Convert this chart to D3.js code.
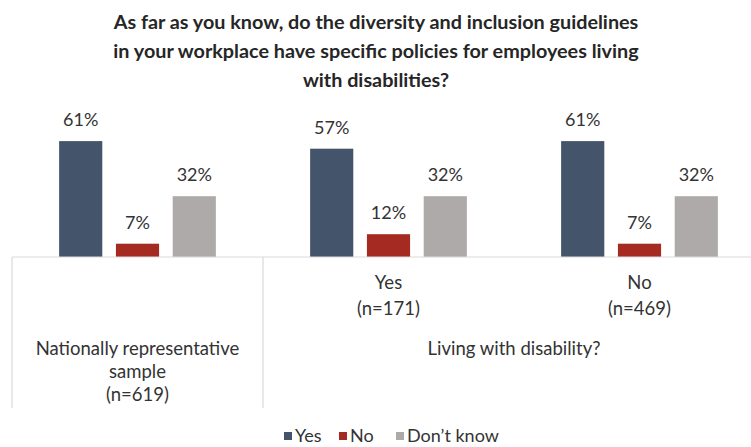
<!DOCTYPE html>
<html>
<head>
<meta charset="utf-8">
<script src="https://cdn.jsdelivr.net/npm/d3@7"></script>
<style>
  body { margin: 0; background: #fff; }
  svg { font-family: Lato, "Open Sans", sans-serif; }
</style>
</head>
<body>
<svg id="chart" width="751" height="447"></svg>
<script>
// data
var groups = ["national", "dis_yes", "dis_no"];
var innerLabels = [[], ["Yes", "(n=171)"], ["No", "(n=469)"]];
var outerLabels = [
    {span: [0, 0], lines: ["Nationally representative", "sample", "(n=619)"]},
    {span: [1, 2], lines: ["Living with disability?"]}
];
var series = ["Yes", "No", "Don\u2019t know"];
var yesVals = [61, 57, 61];
var noVals = [7, 12, 7];
var dkVals = [32, 32, 32];
var colors = ["#44546a", "#a52a22", "#aeaaaa"];
var titleLines = [
    "As far as you know, do the diversity and inclusion guidelines",
    "in your workplace have specific policies for employees living",
    "with disabilities?"
];

var svg = d3.select("#chart");
var baseY = 257, axisBottom = 408;

var x0 = d3.scaleBand().domain(groups).range([12, 765]);
var x1 = d3.scaleBand().domain(series).range([0, x0.step()])
    .paddingInner(0.24).paddingOuter(0.83);
var y = d3.scaleLinear().domain([0, 70]).range([baseY, baseY - 133]);

// title
svg.append("g").selectAll("text")
    .data(titleLines)
  .enter().append("text")
    .attr("x", 376)
    .attr("y", function(d, i) { return 29 + i * 29; })
    .attr("text-anchor", "middle")
    .style("font-weight", "bold")
    .style("font-size", "19.8px")
    .style("fill", "#262626")
    .text(function(d) { return d; });

var rows = groups.map(function(g, i) {
    return {group: g, values: [yesVals[i], noVals[i], dkVals[i]]};
});

var gGroups = svg.append("g").selectAll("g")
    .data(rows)
  .enter().append("g")
    .attr("transform", function(d) { return "translate(" + x0(d.group) + ",0)"; });

gGroups.selectAll("rect")
    .data(function(d) { return d.values; })
  .enter().append("rect")
    .attr("x", function(d, i) { return x1(series[i]); })
    .attr("width", x1.bandwidth())
    .attr("y", function(d) { return y(d); })
    .attr("height", function(d) { return baseY - y(d); })
    .style("fill", function(d, i) { return colors[i]; });

gGroups.selectAll("text.val")
    .data(function(d) { return d.values; })
  .enter().append("text")
    .attr("class", "val")
    .attr("x", function(d, i) { return x1(series[i]) + x1.bandwidth() / 2; })
    .attr("y", function(d) { return y(d) - 15; })
    .attr("text-anchor", "middle")
    .style("font-size", "18px")
    .style("fill", "#333")
    .text(function(d) { return d + "%"; });

// category axis
var axisColor = "#d9d9d9";
svg.append("line")
    .attr("x1", 12).attr("x2", 751)
    .attr("y1", baseY).attr("y2", baseY)
    .style("stroke", axisColor).style("stroke-width", 1.2);

[0, 1].forEach(function(i) {
    svg.append("line")
        .attr("x1", x0(groups[i])).attr("x2", x0(groups[i]))
        .attr("y1", baseY).attr("y2", axisBottom)
        .style("stroke", axisColor).style("stroke-width", 1.2);
});

groups.forEach(function(g, i) {
    svg.append("g").selectAll("text")
        .data(innerLabels[i])
      .enter().append("text")
        .attr("x", x0(g) + x0.bandwidth() / 2)
        .attr("y", function(d, j) { return 289 + j * 26; })
        .attr("text-anchor", "middle")
        .style("font-size", "18.5px")
        .style("fill", "#333")
        .text(function(d) { return d; });
});

outerLabels.forEach(function(o) {
    var left = x0(groups[o.span[0]]);
    var right = x0(groups[o.span[1]]) + x0.bandwidth();
    svg.append("g").selectAll("text")
        .data(o.lines)
      .enter().append("text")
        .attr("x", (left + right) / 2)
        .attr("y", function(d, j) { return 355 + j * 23; })
        .attr("text-anchor", "middle")
        .style("font-size", "18.5px")
        .style("fill", "#333")
        .text(function(d) { return d; });
});

// legend
var legendX = [284, 339, 396];
var legend = svg.append("g").selectAll("g")
    .data(series)
  .enter().append("g")
    .attr("transform", function(d, i) { return "translate(" + legendX[i] + ",432)"; });
legend.append("rect")
    .attr("width", 8).attr("height", 8)
    .style("fill", function(d, i) { return colors[i]; });
legend.append("text")
    .attr("x", 11).attr("y", 10)
    .style("font-size", "18px")
    .style("fill", "#333")
    .text(function(d) { return d; });
</script>
</body>
</html>
